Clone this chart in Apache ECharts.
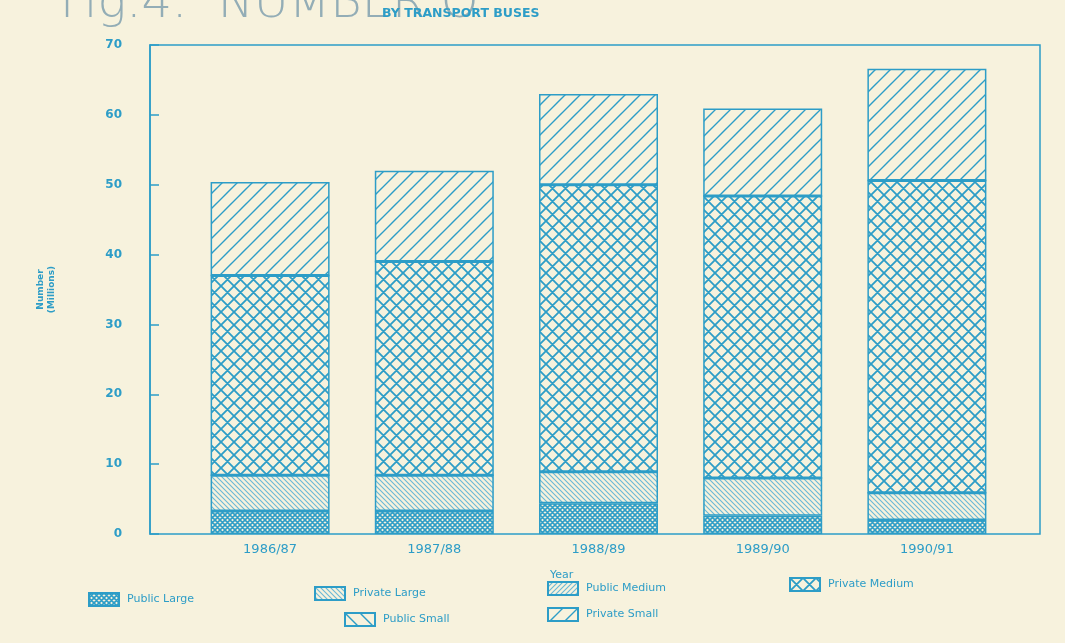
<!DOCTYPE html>
<html>
<head>
<meta charset="utf-8">
<script src="https://cdn.jsdelivr.net/npm/echarts@6/dist/echarts.min.js"></script>
<style>
html, body { margin: 0; padding: 0; background: #f7f2dd; }
#main { width: 1065px; height: 643px; }
</style>
</head>
<body>
<div id="main"></div>
<script>
// data (millions)
var years = ['1986/87', '1987/88', '1988/89', '1989/90', '1990/91'];
var publicLarge = [3.3, 3.3, 4.4, 2.6, 2.0];
var privateLarge = [5.1, 5.1, 4.5, 5.4, 3.9];
var publicMedium = [0, 0, 0, 0, 0];
var privateMedium = [28.6, 30.6, 41.1, 40.4, 44.7];
var publicSmall = [0, 0, 0, 0, 0];
var privateSmall = [13.4, 13.0, 13.0, 12.5, 16.0];

var seriesNames = ['Public Large', 'Private Large', 'Public Medium', 'Private Medium', 'Public Small', 'Private Small'];
var seriesData = [publicLarge, privateLarge, publicMedium, privateMedium, publicSmall, privateSmall];

var INK = '#2d9dc7';
var PAPER = '#f7f2dd';
var FONT = 'DejaVu Sans';

// hatch tile: s = tile size, lw = line width, fwd = '/', back = '\'
function hatch(s, lw, fwd, back, ink) {
	var c = document.createElement('canvas');
	c.width = s; c.height = s;
	var g = c.getContext('2d');
	g.fillStyle = PAPER;
	g.fillRect(0, 0, s, s);
	g.strokeStyle = ink || INK;
	g.lineWidth = lw;
	g.beginPath();
	if (fwd) {
		g.moveTo(-1, 1); g.lineTo(1, -1);
		g.moveTo(0, s); g.lineTo(s, 0);
		g.moveTo(s - 1, s + 1); g.lineTo(s + 1, s - 1);
	}
	if (back) {
		g.moveTo(-1, s - 1); g.lineTo(1, s + 1);
		g.moveTo(0, 0); g.lineTo(s, s);
		g.moveTo(s - 1, -1); g.lineTo(s + 1, 1);
	}
	g.stroke();
	return { image: c, repeat: 'repeat' };
}

var patterns = [
	hatch(5, 1.6, true, true),              // public large
	hatch(5, 1.1, false, true, '#6bb8d6'),  // private large
	hatch(5, 1.1, true, false, '#6bb8d6'),  // public medium
	hatch(13, 1.8, true, true),             // private medium
	hatch(15, 1.4, false, true),            // public small
	hatch(15, 1.4, true, false)             // private small
];

// legend spots [left, top]
var legendPos = [[88, 592], [314, 586], [547, 581], [789, 577], [344, 612], [547, 607]];

var series = [];
var legends = [];
for (var i = 0; i < seriesNames.length; i++) {
	series.push({
		name: seriesNames[i],
		type: 'bar',
		stack: 'buses',
		barWidth: 119,
		data: seriesData[i],
		itemStyle: {
			color: patterns[i],
			borderColor: INK,
			borderWidth: 1.5
		}
	});
	legends.push({
		data: [seriesNames[i]],
		left: legendPos[i][0],
		top: legendPos[i][1],
		icon: 'rect',
		itemWidth: 30,
		itemHeight: 13,
		padding: 0,
		selectedMode: false,
		textStyle: { color: INK, fontFamily: FONT, fontSize: 11, padding: [0, 0, 0, 3] }
	});
}

var dom = document.getElementById('main');
var myChart = echarts.init(dom);
var option = {
	backgroundColor: PAPER,
	animation: false,
	grid: { left: 188, right: 56, top: 45, bottom: 109 },
	legend: legends,
	graphic: [
		{
			type: 'text', left: 60, top: -19, silent: true,
			style: { text: 'Fig.4.  NUMBER O', fill: '#93adb6', font: '300 48px "DejaVu Sans"' }
		},
		{
			type: 'text', left: 382, top: 7, silent: true,
			style: { text: 'BY TRANSPORT BUSES', fill: INK, font: '600 12.5px "DejaVu Sans"' }
		},
		{
			type: 'text', left: 550, top: 570, silent: true,
			style: { text: 'Year', fill: INK, font: '11px "DejaVu Sans"' }
		},
		{
			type: 'rect', silent: true, z: 0,
			shape: { x: 150, y: 45, width: 890, height: 489 },
			style: { fill: 'none', stroke: INK, lineWidth: 1.5 }
		}
	],
	xAxis: {
		type: 'category',
		data: years,
		axisLine: { show: false },
		axisTick: { show: false },
		axisLabel: { color: INK, fontFamily: FONT, fontSize: 13, margin: 9 }
	},
	yAxis: {
		type: 'value',
		min: 0,
		max: 70,
		interval: 10,
		offset: 38,
		name: 'Number\n(Millions)',
		nameLocation: 'middle',
		nameRotate: 90,
		nameGap: 93,
		nameTextStyle: { color: INK, fontFamily: FONT, fontSize: 9, lineHeight: 11, fontWeight: 'bold' },
		splitLine: { show: false },
		axisLine: { show: true, lineStyle: { color: INK, width: 1.5 } },
		axisTick: { show: true, inside: true, length: 9, lineStyle: { color: INK, width: 1.5 } },
		axisLabel: { color: INK, fontFamily: FONT, fontSize: 12, fontWeight: 'bold', margin: 28 }
	},
	series: series
};
myChart.setOption(option, true);
</script>
</body>
</html>
